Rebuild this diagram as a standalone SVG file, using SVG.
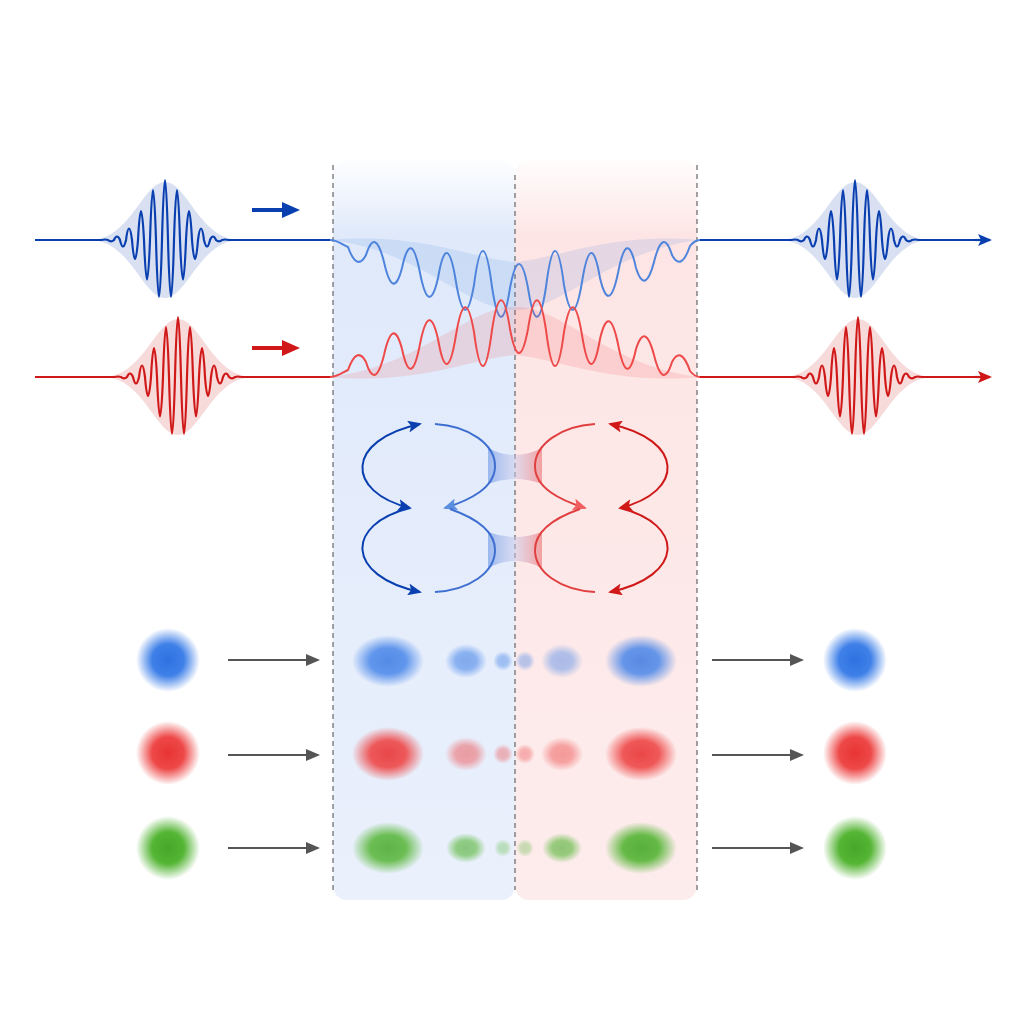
<svg xmlns="http://www.w3.org/2000/svg" xmlns:xlink="http://www.w3.org/1999/xlink" width="1024" height="1024" viewBox="0 0 1024 1024">
<style>
.dash{stroke:#666;stroke-width:1.2;stroke-dasharray:5 4;fill:none}
.gray{stroke:#555;stroke-width:2;fill:none;marker-end:url(#ag)}
</style>
<defs>
<linearGradient id="pb" x1="0" y1="0" x2="0" y2="1"><stop offset="0" stop-color="#e3ecfb" stop-opacity="0.1"/><stop offset="0.1" stop-color="#dce7fa" stop-opacity="0.9"/><stop offset="1" stop-color="#e8effc" stop-opacity="0.9"/></linearGradient>
<linearGradient id="pr" x1="0" y1="0" x2="0" y2="1"><stop offset="0" stop-color="#fde6e6" stop-opacity="0.1"/><stop offset="0.1" stop-color="#fde2e2" stop-opacity="0.9"/><stop offset="1" stop-color="#fdeaea" stop-opacity="0.9"/></linearGradient>
<linearGradient id="fun" x1="0" y1="0" x2="1" y2="0"><stop offset="0" stop-color="#7aa2ea" stop-opacity="0.7"/><stop offset="0.5" stop-color="#c8c8e8" stop-opacity="0.5"/><stop offset="1" stop-color="#f08080" stop-opacity="0.7"/></linearGradient>
<radialGradient id="gb"><stop offset="0" stop-color="#2f72e0"/><stop offset="0.5" stop-color="#3f80e8"/><stop offset="1" stop-color="#3f80e8" stop-opacity="0"/></radialGradient>
<radialGradient id="gr"><stop offset="0" stop-color="#e83434"/><stop offset="0.5" stop-color="#ee4848"/><stop offset="1" stop-color="#ee4848" stop-opacity="0"/></radialGradient>
<radialGradient id="gg"><stop offset="0" stop-color="#45a828"/><stop offset="0.5" stop-color="#55b535"/><stop offset="1" stop-color="#55b535" stop-opacity="0"/></radialGradient>
<marker id="ag" markerWidth="14" markerHeight="12" refX="12" refY="6" orient="auto" markerUnits="userSpaceOnUse"><path d="M0 0 L14 6 L0 12 Z" fill="#555"/></marker>
<marker id="ab" markerWidth="14" markerHeight="12" refX="12" refY="6" orient="auto-start-reverse" markerUnits="userSpaceOnUse"><path d="M0 0 L14 6 L0 12 L3 6 Z" fill="#0a3fb0"/></marker>
<marker id="ar" markerWidth="14" markerHeight="12" refX="12" refY="6" orient="auto-start-reverse" markerUnits="userSpaceOnUse"><path d="M0 0 L14 6 L0 12 L3 6 Z" fill="#d01818"/></marker>
<marker id="abB" markerWidth="18" markerHeight="16" refX="4" refY="8" orient="auto" markerUnits="userSpaceOnUse"><path d="M0 0 L18 8 L0 16 Z" fill="#0a3fb0"/></marker>
<marker id="arB" markerWidth="18" markerHeight="16" refX="4" refY="8" orient="auto" markerUnits="userSpaceOnUse"><path d="M0 0 L18 8 L0 16 Z" fill="#d01818"/></marker>
<marker id="abl" markerWidth="14" markerHeight="12" refX="12" refY="6" orient="auto" markerUnits="userSpaceOnUse"><path d="M0 0 L14 6 L0 12 L3 6 Z" fill="#5a8fe0"/></marker>
<marker id="arl" markerWidth="14" markerHeight="12" refX="12" refY="6" orient="auto" markerUnits="userSpaceOnUse"><path d="M0 0 L14 6 L0 12 L3 6 Z" fill="#f06060"/></marker>
<g id="packet">
<path d="M-75 0 C-35 0 -22 -58 0 -58 C22 -58 35 0 75 0 C35 0 22 58 0 58 C-22 58 -35 0 -75 0Z" fill="currentColor" fill-opacity="0.16"/>
<path d="M-63 0 Q-60 -1 -57 0 Q-54 3 -51 0 Q-48 -7 -45 0 Q-42 13 -39 0 Q-36 -23 -33 0 Q-30 38 -27 0 Q-24 -58 -21 0 Q-18 79 -15 0 Q-12 -100 -9 0 Q-6 114 -3 0 Q0 -120 3 0 Q6 114 9 0 Q12 -100 15 0 Q18 79 21 0 Q24 -58 27 0 Q30 38 33 0 Q36 -23 39 0 Q42 13 45 0 Q48 -7 51 0 Q54 3 57 0 Q60 -1 63 0" fill="none" stroke="currentColor" stroke-width="2.2"/>
</g>
<g id="midwave">
<path d="M330 240 C420 232 470 258 515 262 C560 258 610 232 700 240 C610 250 560 312 515 310 C470 312 420 250 330 240Z" fill="currentColor" fill-opacity="0.14"/>
<path d="M330 240 C338 240 343 245 348 247 Q357 272 366 255 Q375 226 384 262 Q393 302 402 268 Q411 226 420 273 Q429 318 438 278 Q447 226 456 282 Q465 336 474 285 Q483 216 492 287 Q501 346 510 288 Q519 240 528 288 Q537 346 546 287 Q555 216 564 285 Q573 336 582 282 Q591 226 600 278 Q609 316 618 273 Q627 226 636 268 Q645 296 654 262 Q663 226 672 255 Q681 272 690 246 C694 241 697 240 700 240" fill="none" stroke="currentColor" stroke-width="2"/>
</g>
</defs>
<rect width="1024" height="1024" fill="#ffffff"/>
<g id="panels">
<rect x="333" y="160" width="182" height="740" rx="14" fill="url(#pb)"/>
<rect x="515" y="160" width="182" height="740" rx="14" fill="url(#pr)"/>
</g>
<g id="dividers">
<line class="dash" x1="333" y1="165" x2="333" y2="890"/>
<line class="dash" x1="515" y1="175" x2="515" y2="890"/>
<line class="dash" x1="697" y1="165" x2="697" y2="890"/>
</g>
<g id="blue-wave">
<path d="M35 240 H102 M228 240 H330 M700 240 H792 M918 240 H975" stroke="#0a3fb0" stroke-width="2.2" fill="none"/>
<path d="M975 240 H990" stroke="#0a3fb0" stroke-width="2.2" marker-end="url(#ab)"/>
<use xlink:href="#packet" href="#packet" transform="translate(165 240)" color="#0a3fb0"/>
<use xlink:href="#packet" href="#packet" transform="translate(855 240)" color="#0a3fb0"/>
<use xlink:href="#midwave" href="#midwave" color="#4f84dc"/>
<path d="M252 210 H286" stroke="#0a3fb0" stroke-width="4" marker-end="url(#abB)"/>
</g>
<g id="red-wave">
<path d="M35 377 H115 M241 377 H330 M700 377 H795 M921 377 H975" stroke="#d01818" stroke-width="2.2" fill="none"/>
<path d="M975 377 H990" stroke="#d01818" stroke-width="2.2" marker-end="url(#ar)"/>
<use xlink:href="#packet" href="#packet" transform="translate(178 377)" color="#d01818"/>
<use xlink:href="#packet" href="#packet" transform="translate(858 377)" color="#d01818"/>
<use xlink:href="#midwave" href="#midwave" transform="matrix(1 0 0 -1 0 617)" color="#ee4a4a"/>
<path d="M252 348 H286" stroke="#d01818" stroke-width="4" marker-end="url(#arB)"/>
</g>
<g id="loops">
<path d="M488 448 Q515 462 542 448 L542 484 Q515 474 488 484Z" fill="url(#fun)"/>
<path d="M488 532 Q515 542 542 532 L542 568 Q515 554 488 568Z" fill="url(#fun)"/>
<g fill="none" stroke-width="2">
<path d="M410 508 C345 492 345 440 420 424" stroke="#0a3fb0" marker-start="url(#ab)" marker-end="url(#ab)"/>
<path d="M410 508 C345 524 345 576 420 592" stroke="#0a3fb0" marker-end="url(#ab)"/>
<path d="M435 424 C470 426 495 445 495 466 C495 488 470 500 445 508" stroke="#3f6fd0" marker-end="url(#abl)"/>
<path d="M435 592 C470 590 495 572 495 550 C495 528 470 516 450 509" stroke="#3f6fd0"/>
<path d="M620 508 C685 492 685 440 610 424" stroke="#d01818" marker-start="url(#ar)" marker-end="url(#ar)"/>
<path d="M620 508 C685 524 685 576 610 592" stroke="#d01818" marker-end="url(#ar)"/>
<path d="M595 424 C560 426 535 445 535 466 C535 488 560 500 585 508" stroke="#e04040" marker-end="url(#arl)"/>
<path d="M595 592 C560 590 535 572 535 550 C535 528 560 516 580 509" stroke="#e04040"/>
</g>
</g>
<g id="connectors">
<path class="gray" d="M228 660 H318"/><path class="gray" d="M712 660 H802"/>
<path class="gray" d="M228 755 H318"/><path class="gray" d="M712 755 H802"/>
<path class="gray" d="M228 848 H318"/><path class="gray" d="M712 848 H802"/>
</g>
<g id="blue-row">
<circle cx="168" cy="660" r="32" fill="url(#gb)"/>
<ellipse cx="388" cy="661" rx="36" ry="26" fill="url(#gb)" opacity="0.8"/>
<ellipse cx="466" cy="661" rx="21" ry="17" fill="url(#gb)" opacity="0.55"/>
<circle cx="503" cy="661" r="10" fill="url(#gb)" opacity="0.4"/>
<circle cx="525" cy="661" r="10" fill="url(#gb)" opacity="0.35"/>
<ellipse cx="562" cy="661" rx="21" ry="17" fill="url(#gb)" opacity="0.4"/>
<ellipse cx="641" cy="661" rx="36" ry="26" fill="url(#gb)" opacity="0.8"/>
<circle cx="855" cy="660" r="32" fill="url(#gb)"/>
</g>
<g id="red-row">
<circle cx="168" cy="753" r="32" fill="url(#gr)"/>
<ellipse cx="388" cy="754" rx="36" ry="27" fill="url(#gr)" opacity="0.9"/>
<ellipse cx="466" cy="754" rx="21" ry="17" fill="url(#gr)" opacity="0.45"/>
<circle cx="503" cy="754" r="10" fill="url(#gr)" opacity="0.35"/>
<circle cx="525" cy="754" r="10" fill="url(#gr)" opacity="0.35"/>
<ellipse cx="562" cy="754" rx="21" ry="17" fill="url(#gr)" opacity="0.45"/>
<ellipse cx="641" cy="754" rx="36" ry="27" fill="url(#gr)" opacity="0.9"/>
<circle cx="855" cy="753" r="32" fill="url(#gr)"/>
</g>
<g id="green-row">
<circle cx="168" cy="848" r="32" fill="url(#gg)"/>
<ellipse cx="388" cy="848" rx="36" ry="26" fill="url(#gg)" opacity="0.85"/>
<ellipse cx="466" cy="848" rx="20" ry="15" fill="url(#gg)" opacity="0.6"/>
<circle cx="503" cy="848" r="9" fill="url(#gg)" opacity="0.3"/>
<circle cx="525" cy="848" r="9" fill="url(#gg)" opacity="0.3"/>
<ellipse cx="562" cy="848" rx="20" ry="15" fill="url(#gg)" opacity="0.6"/>
<ellipse cx="641" cy="848" rx="36" ry="26" fill="url(#gg)" opacity="0.9"/>
<circle cx="855" cy="848" r="32" fill="url(#gg)"/>
</g>
</svg>
